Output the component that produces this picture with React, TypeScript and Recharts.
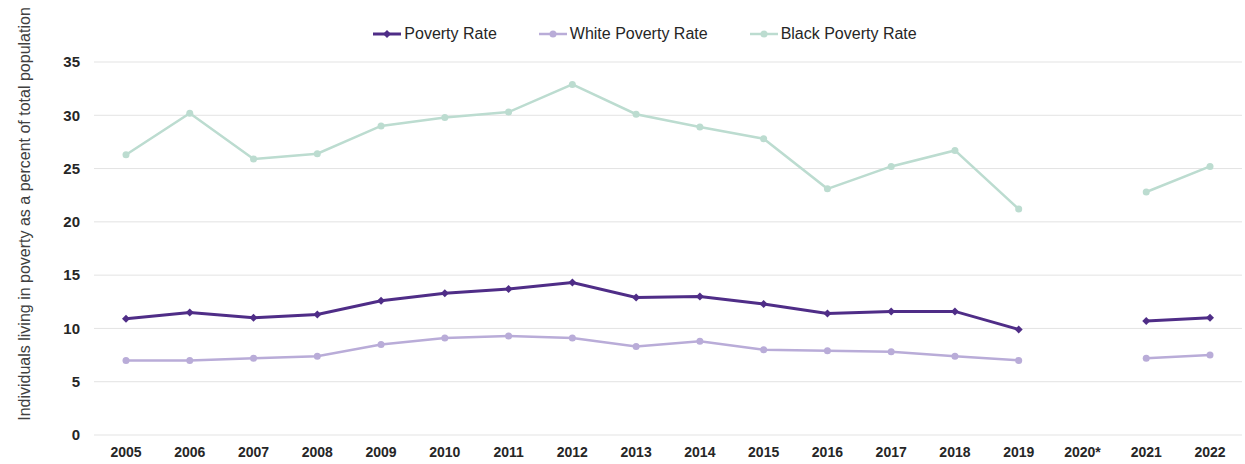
import React from 'react';
import { LineChart, Line, XAxis, YAxis, CartesianGrid, Legend } from 'recharts';

const years = ['2005','2006','2007','2008','2009','2010','2011','2012','2013','2014','2015','2016','2017','2018','2019','2020*','2021','2022'];
const povertyRate = [10.9, 11.5, 11.0, 11.3, 12.6, 13.3, 13.7, 14.3, 12.9, 13.0, 12.3, 11.4, 11.6, 11.6, 9.9, null, 10.7, 11.0];
const whitePovertyRate = [7.0, 7.0, 7.2, 7.4, 8.5, 9.1, 9.3, 9.1, 8.3, 8.8, 8.0, 7.9, 7.8, 7.4, 7.0, null, 7.2, 7.5];
const blackPovertyRate = [26.3, 30.2, 25.9, 26.4, 29.0, 29.8, 30.3, 32.9, 30.1, 28.9, 27.8, 23.1, 25.2, 26.7, 21.2, null, 22.8, 25.2];
const yTicks = [0, 5, 10, 15, 20, 25, 30, 35];

const data = years.map((y, i) => ({
  year: y,
  poverty: povertyRate[i],
  white: whitePovertyRate[i],
  black: blackPovertyRate[i],
}));

const C_POV = '#4f2d87';
const C_WHITE = '#b9acd8';
const C_BLACK = '#bcdcd0';
const FONT = '"Liberation Sans", Arial, sans-serif';

const Diamond = (props: any) => {
  const { cx, cy, fill } = props;
  if (cx == null || cy == null || props.value == null) return null;
  const r = 4;
  return <path d={`M${cx},${cy - r}L${cx + r},${cy}L${cx},${cy + r}L${cx - r},${cy}Z`} fill={fill} />;
};

const Dot = (props: any) => {
  const { cx, cy, fill } = props;
  if (cx == null || cy == null || props.value == null) return null;
  return <circle cx={cx} cy={cy} r={3.5} fill={fill} />;
};

const legendItems = [
  { name: 'Poverty Rate', color: C_POV, shape: 'diamond' },
  { name: 'White Poverty Rate', color: C_WHITE, shape: 'circle' },
  { name: 'Black Poverty Rate', color: C_BLACK, shape: 'circle' },
];

const renderLegend = () => (
  <div style={{ display: 'flex', justifyContent: 'center', gap: 42, fontFamily: FONT, fontSize: 16, color: '#262626', height: 24, alignItems: 'center', paddingLeft: 45 }}>
    {legendItems.map((it) => (
      <div key={it.name} style={{ display: 'flex', alignItems: 'center' }}>
        <svg width={28} height={12} style={{ marginRight: 3 }}>
          <line x1={0} y1={6} x2={28} y2={6} stroke={it.color} strokeWidth={it.shape === 'diamond' ? 3 : 2.5} />
          {it.shape === 'diamond' ? (
            <path d="M14,2L18,6L14,10L10,6Z" fill={it.color} />
          ) : (
            <circle cx={14} cy={6} r={3.5} fill={it.color} />
          )}
        </svg>
        <span>{it.name}</span>
      </div>
    ))}
  </div>
);

const YLabel = () => (
  <text
    x={24}
    y={214}
    transform="rotate(-90, 24, 214)"
    textAnchor="middle"
    dominantBaseline="central"
    fontFamily={FONT}
    fontSize={16}
    fill="#404040"
  >
    Individuals living in poverty as a percent of total population
  </text>
);

export default function App() {
  return (
    <div style={{ position: 'absolute', left: 0, top: 0, background: '#fff' }}>
      <LineChart width={1245} height={464} data={data} margin={{ top: 62, right: 3, bottom: 0, left: 0 }}>
        <CartesianGrid vertical={false} stroke="#e3e3e3" strokeWidth={1} />
        <XAxis
          dataKey="year"
          height={29}
          axisLine={false}
          tickLine={false}
          tickMargin={6}
          interval={0}
          padding={{ left: 32, right: 32 }}
          tick={{ fontFamily: FONT, fontSize: 14, fontWeight: 700, fill: '#262626' }}
        />
        <YAxis
          width={94}
          domain={[0, 35]}
          ticks={yTicks}
          axisLine={false}
          tickLine={false}
          tickMargin={8}
          tick={{ fontFamily: FONT, fontSize: 15, fontWeight: 700, fill: '#262626' }}
          label={<YLabel />}
        />
        <Legend
          layout="horizontal"
          verticalAlign="middle"
          align="center"
          content={renderLegend}
          wrapperStyle={{ top: 22, left: 0, width: 1245 }}
        />
        <Line dataKey="black" name="Black Poverty Rate" stroke={C_BLACK} strokeWidth={2.5} dot={<Dot fill={C_BLACK} />} activeDot={false} connectNulls={false} isAnimationActive={false} />
        <Line dataKey="white" name="White Poverty Rate" stroke={C_WHITE} strokeWidth={2.5} dot={<Dot fill={C_WHITE} />} activeDot={false} connectNulls={false} isAnimationActive={false} />
        <Line dataKey="poverty" name="Poverty Rate" stroke={C_POV} strokeWidth={3} dot={<Diamond fill={C_POV} />} activeDot={false} connectNulls={false} isAnimationActive={false} />
      </LineChart>
    </div>
  );
}
